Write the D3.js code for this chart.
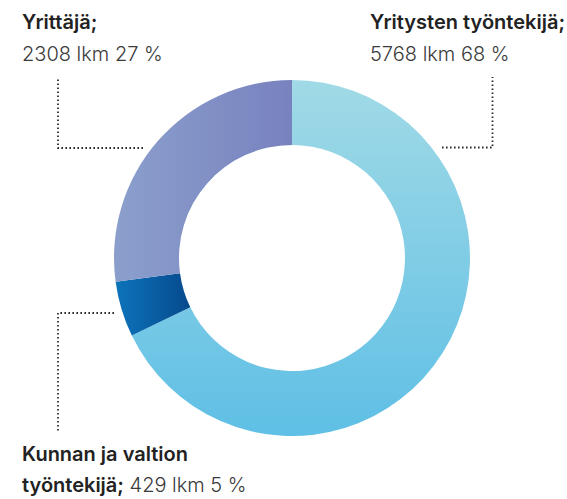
<!DOCTYPE html>
<html>
<head>
<meta charset="utf-8">
<script src="https://cdn.jsdelivr.net/npm/d3@7"></script>
<style>
  html, body { margin: 0; padding: 0; background: #fff; }
  svg text { font-family: Inter, Roboto, "Open Sans", sans-serif; fill: #222; }
  .b { font-weight: 600; }
  .l { font-weight: 300; fill: #3a3a3a; }
</style>
</head>
<body>
<div id="chart"></div>
<script>
// data
var categories = ["Yritysten työntekijä;", "Kunnan ja valtion työntekijä;", "Yrittäjä;"];
var counts = [5768, 429, 2308];
var percents = [68, 5, 27];

var width = 567, height = 499;
var cx = 292, cy = 258, outerR = 178, innerR = 113;

var svg = d3.select("#chart").append("svg")
    .attr("width", width)
    .attr("height", height);

var defs = svg.append("defs");

// gradients per slice
var grads = [
    { id: "g0", x2: "0", y2: "1", from: "#a1dae6", to: "#5fbfe5" },
    { id: "g1", x2: "1", y2: "0", from: "#0d74bb", to: "#06498d" },
    { id: "g2", x2: "1", y2: "0", from: "#8b9fcc", to: "#7882bf" }
];
grads.forEach(function(g) {
    var lg = defs.append("linearGradient")
        .attr("id", g.id)
        .attr("x1", 0).attr("y1", 0)
        .attr("x2", g.x2).attr("y2", g.y2);
    lg.append("stop").attr("offset", "0%").attr("stop-color", g.from);
    lg.append("stop").attr("offset", "100%").attr("stop-color", g.to);
});

var pie = d3.pie().sort(null).value(function(d) { return d; });
var arc = d3.arc().innerRadius(innerR).outerRadius(outerR);

svg.append("g")
    .attr("transform", "translate(" + cx + "," + cy + ")")
    .selectAll("path")
    .data(pie(counts))
    .enter().append("path")
        .attr("d", arc)
        .attr("fill", function(d, i) { return "url(#g" + i + ")"; });

// leader lines (dotted)
var leaders = [
    [[442, 147.5], [492.5, 147.5], [492.5, 77]],
    [[114, 313], [58, 313], [58, 433]],
    [[143, 148], [58, 148], [58, 77]]
];
var line = d3.line();
svg.append("g")
    .selectAll("path")
    .data(leaders)
    .enter().append("path")
        .attr("d", line)
        .attr("fill", "none")
        .attr("stroke", "#2a2a2a")
        .attr("stroke-width", 1.8)
        .attr("stroke-dasharray", "1.6,2.4");

function fmt(i) { return counts[i] + " lkm " + percents[i] + " %"; }

// labels
var fs = 20;
// Yritysten työntekijä
svg.append("text").attr("class", "b").attr("x", 370).attr("y", 29).attr("font-size", fs)
    .text(categories[0]);
svg.append("text").attr("class", "l").attr("x", 370).attr("y", 61).attr("font-size", fs)
    .text(fmt(0));

// Yrittäjä
svg.append("text").attr("class", "b").attr("x", 22).attr("y", 29).attr("font-size", fs)
    .text(categories[2]);
svg.append("text").attr("class", "l").attr("x", 22).attr("y", 61).attr("font-size", fs)
    .text(fmt(2));

// Kunnan ja valtion työntekijä
var parts = categories[1].split(" ");
svg.append("text").attr("class", "b").attr("x", 22).attr("y", 461).attr("font-size", fs)
    .text(parts.slice(0, 3).join(" "));
var t = svg.append("text").attr("x", 22).attr("y", 492).attr("font-size", fs);
t.append("tspan").attr("class", "b").text(parts.slice(3).join(" "));
t.append("tspan").attr("class", "l").text(" " + fmt(1));
</script>
</body>
</html>
